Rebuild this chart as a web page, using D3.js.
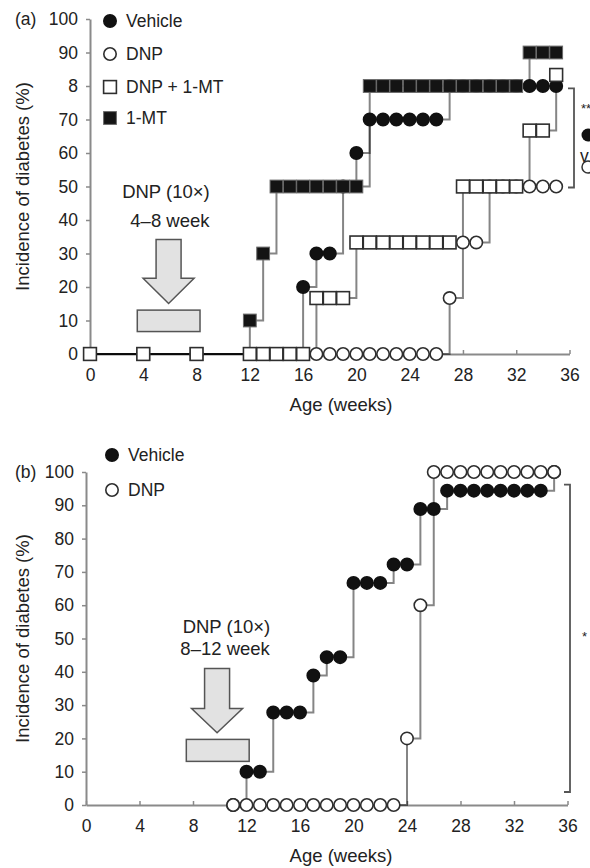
<!DOCTYPE html>
<html>
<head>
<meta charset="utf-8">
<script src="https://cdn.jsdelivr.net/npm/d3@7/dist/d3.min.js"></script>
<style>
body { margin: 0; background: #fff; }
text { font-family: "Liberation Sans", Arial, Helvetica, sans-serif; fill: #222; }
</style>
</head>
<body>
<script>
// DATA
// panel (a): weeks of age and incidence of diabetes (%)
var weeksA = [0, 4, 8, 12, 13, 14, 15, 16, 17, 18, 19, 20, 21, 22, 23, 24, 25, 26, 27, 28, 29, 30, 31, 32, 33, 34, 35];
var vehicleA = [0, 0, 0, 0, 0, 0, 0, 20, 30, 30, 50, 60, 70, 70, 70, 70, 70, 70, 80, 80, 80, 80, 80, 80, 80, 80, 80];
var dnpA = [0, 0, 0, 0, 0, 0, 0, 0, 0, 0, 0, 0, 0, 0, 0, 0, 0, 0, 16.7, 33.3, 33.3, 50, 50, 50, 50, 50, 50];
var dnpMtA = [0, 0, 0, 0, 0, 0, 0, 0, 16.7, 16.7, 16.7, 33.3, 33.3, 33.3, 33.3, 33.3, 33.3, 33.3, 33.3, 50, 50, 50, 50, 50, 66.7, 66.7, 83.3];
var mtA = [0, 0, 0, 10, 30, 50, 50, 50, 50, 50, 50, 50, 80, 80, 80, 80, 80, 80, 80, 80, 80, 80, 80, 80, 90, 90, 90];

// panel (b)
var weeksB = [11, 12, 13, 14, 15, 16, 17, 18, 19, 20, 21, 22, 23, 24, 25, 26, 27, 28, 29, 30, 31, 32, 33, 34, 35];
var vehicleB = [0, 10, 10, 27.8, 27.8, 27.8, 38.9, 44.4, 44.4, 66.7, 66.7, 66.7, 72.2, 72.2, 88.9, 88.9, 94.4, 94.4, 94.4, 94.4, 94.4, 94.4, 94.4, 94.4, 100];
var dnpB = [0, 0, 0, 0, 0, 0, 0, 0, 0, 0, 0, 0, 0, 20, 60, 100, 100, 100, 100, 100, 100, 100, 100, 100, 100];

// axes
var xTicks = [0, 4, 8, 12, 16, 20, 24, 28, 32, 36];
var yTicks = [0, 10, 20, 30, 40, 50, 60, 70, 80, 90, 100];
var yLabelsA = ["0", "10", "20", "30", "40", "50", "60", "70", "8", "90", "100"];
var yLabelsB = ["0", "10", "20", "30", "40", "50", "60", "70", "80", "90", "100"];

var width = 590;
var height = 868;

var svg = d3.select("body").append("svg")
    .attr("width", width)
    .attr("height", height);

var lineGray = "#8a8a8a";

function drawPanel(p) {
  var x = d3.scaleLinear().domain([0, 36]).range(p.xRange);
  var y = d3.scaleLinear().domain([0, 100]).range(p.yRange);
  var g = svg.append("g");

  // y axis
  var ya = g.append("g")
      .attr("transform", "translate(" + p.xRange[0] + ",0)")
      .call(d3.axisLeft(y).tickValues(yTicks).tickSize(4).tickSizeOuter(0).tickPadding(8)
        .tickFormat(function(d, i) { return p.yLabels[i]; }));
  // x axis
  var xa = g.append("g")
      .attr("transform", "translate(0," + p.yRange[0] + ")")
      .call(d3.axisBottom(x).tickValues(xTicks).tickSize(-4).tickSizeOuter(0).tickPadding(15));
  [ya, xa].forEach(function(a) {
    a.select(".domain").attr("stroke", lineGray).attr("stroke-width", 2);
    a.selectAll(".tick line").attr("stroke", lineGray).attr("stroke-width", 1.5);
    a.selectAll(".tick text").style("font-size", "17.5px").attr("fill", "#222");
  });

  g.append("text")
      .attr("transform", "translate(" + 29 + "," + ((p.yRange[0] + p.yRange[1]) / 2) + ") rotate(-90)")
      .attr("text-anchor", "middle")
      .style("font-size", "18.5px")
      .text("Incidence of diabetes (%)");

  g.append("text")
      .attr("x", 341)
      .attr("y", p.yRange[0] + 57)
      .attr("text-anchor", "middle")
      .style("font-size", "18.5px")
      .text("Age (weeks)");

  g.append("text")
      .attr("x", 15)
      .attr("y", p.yRange[1] + 6)
      .style("font-size", "17.5px")
      .text(p.tag);

  // treatment annotation
  var a = p.arrow;
  var cx = x(a.week);
  var arrowPath = d3.path();
  arrowPath.moveTo(cx - 12.5, y(a.top));
  arrowPath.lineTo(cx + 12.5, y(a.top));
  arrowPath.lineTo(cx + 12.5, y(a.base));
  arrowPath.lineTo(cx + 25.5, y(a.base));
  arrowPath.lineTo(cx, y(a.tip));
  arrowPath.lineTo(cx - 25.5, y(a.base));
  arrowPath.lineTo(cx - 12.5, y(a.base));
  arrowPath.closePath();
  g.append("path")
      .attr("d", arrowPath.toString())
      .attr("fill", "#e2e2e2")
      .attr("stroke", "#555")
      .attr("stroke-width", 1.5);
  g.append("rect")
      .attr("x", x(a.rect[0]))
      .attr("y", y(a.rect[3]))
      .attr("width", x(a.rect[1]) - x(a.rect[0]))
      .attr("height", y(a.rect[2]) - y(a.rect[3]))
      .attr("fill", "#e2e2e2")
      .attr("stroke", "#555")
      .attr("stroke-width", 1.5);
  a.lines.forEach(function(t, i) {
    g.append("text")
        .attr("x", x(a.textWeek[i]))
        .attr("y", a.textY[i])
        .attr("text-anchor", "middle")
        .style("font-size", "18.5px")
        .text(t);
  });

  // step lines
  var line = d3.line()
      .x(function(d) { return x(d[0]); })
      .y(function(d) { return y(d[1]); })
      .curve(d3.curveStepAfter);
  p.series.forEach(function(s) {
    g.append("path")
        .datum(p.weeks.map(function(w, i) { return [w, s.values[i]]; }))
        .attr("d", line)
        .attr("fill", "none")
        .attr("stroke", "#000")
        .attr("stroke-opacity", 0.48)
        .attr("stroke-width", 2);
  });

  // markers
  p.series.forEach(function(s) {
    var pts = p.weeks.map(function(w, i) { return [x(w), y(s.values[i])]; });
    drawMarkers(g, pts, s.shape);
  });

  // legend
  p.series.forEach(function(s) {
    drawMarkers(g, [[p.legend.x, s.legendY]], s.shape);
    g.append("text")
        .attr("x", p.legend.x + 16)
        .attr("y", s.legendY + 6)
        .style("font-size", "17.5px")
        .text(s.name);
  });

  // significance bracket
  var b = p.bracket;
  g.append("path")
      .attr("d", "M" + (b.x - 6) + "," + y(b.top) + "H" + b.x + "V" + y(b.bottom) + "H" + (b.x - 6))
      .attr("fill", "none")
      .attr("stroke", "#555")
      .attr("stroke-width", 1.8);
  return g;
}

function drawMarkers(g, pts, shape) {
  var sel = g.append("g").selectAll("x").data(pts).enter();
  if (shape === "filledCircle" || shape === "openCircle") {
    sel.append("circle")
        .attr("cx", function(d) { return d[0]; })
        .attr("cy", function(d) { return d[1]; })
        .attr("r", 6.2)
        .attr("fill", shape === "filledCircle" ? "#111" : "#fff")
        .attr("stroke", shape === "filledCircle" ? "#111" : "#2e2e2e")
        .attr("stroke-width", 1.6);
  } else {
    sel.append("rect")
        .attr("x", function(d) { return d[0] - 6.4; })
        .attr("y", function(d) { return d[1] - 6.4; })
        .attr("width", 12.8)
        .attr("height", 12.8)
        .attr("fill", shape === "filledSquare" ? "#141414" : "#fff")
        .attr("stroke", shape === "filledSquare" ? "#6a6a6a" : "#2e2e2e")
        .attr("stroke-width", shape === "filledSquare" ? 1 : 1.6);
  }
}

drawPanel({
  tag: "(a)",
  xRange: [90, 569.5],
  yRange: [354, 19],
  yLabels: yLabelsA,
  weeks: weeksA,
  // drawing order: open squares last, they sit on top
  series: [
    {name: "Vehicle", values: vehicleA, shape: "filledCircle", legendY: 21},
    {name: "DNP", values: dnpA, shape: "openCircle", legendY: 54},
    {name: "1-MT", values: mtA, shape: "filledSquare", legendY: 118},
    {name: "DNP + 1-MT", values: dnpMtA, shape: "openSquare", legendY: 87}
  ],
  legend: {x: 110},
  arrow: {week: 5.9, top: 34.2, base: 22.6, tip: 15.1, rect: [3.55, 8.26, 6.7, 13.1],
          lines: ["DNP (10\u00d7)", "4\u20138 week"], textWeek: [5.7, 6.0], textY: [198, 226.5]},
  bracket: {x: 574, top: 79.3, bottom: 49.7}
});

// annotation cut by the right edge of (a)
svg.append("text").attr("x", 581).attr("y", 113).style("font-size", "13px").text("**");
svg.append("circle").attr("cx", 588).attr("cy", 135).attr("r", 6.5).attr("fill", "#111");
svg.append("text").attr("x", 580).attr("y", 162).style("font-size", "17.5px").text("v");
svg.append("circle").attr("cx", 588).attr("cy", 167).attr("r", 6).attr("fill", "#fff").attr("stroke", "#333").attr("stroke-width", 1.5);

drawPanel({
  tag: "(b)",
  xRange: [86, 567.5],
  yRange: [805, 472],
  yLabels: yLabelsB,
  weeks: weeksB,
  series: [
    {name: "Vehicle", values: vehicleB, shape: "filledCircle", legendY: 455},
    {name: "DNP", values: dnpB, shape: "openCircle", legendY: 490}
  ],
  legend: {x: 112},
  arrow: {week: 9.8, top: 41, base: 29, tip: 21.7, rect: [7.5, 12.2, 13.1, 19.7],
          lines: ["DNP (10\u00d7)", "8\u201312 week"], textWeek: [10.5, 10.4], textY: [632.5, 655]},
  bracket: {x: 570, top: 96.2, bottom: 3.9}
});

svg.append("text").attr("x", 582).attr("y", 641).style("font-size", "13px").text("*");
</script>
</body>
</html>
